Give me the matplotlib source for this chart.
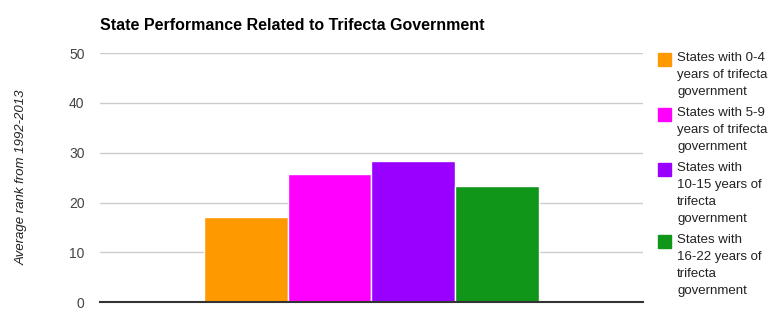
import numpy as np
import matplotlib.pyplot as plt
from matplotlib.patches import Rectangle

plt.rcParams['font.family'] = ['Liberation Sans', 'DejaVu Sans']

# Data
series_labels = [
    "States with 0-4\nyears of trifecta\ngovernment",
    "States with 5-9\nyears of trifecta\ngovernment",
    "States with\n10-15 years of\ntrifecta\ngovernment",
    "States with\n16-22 years of\ntrifecta\ngovernment",
]
avg_rank = [17.1, 25.8, 28.3, 23.4]
colors = ["#ff9900", "#ff00ff", "#9900ff", "#109618"]
yticks = [0, 10, 20, 30, 40, 50]

fig = plt.figure(figsize=(7.8, 3.24), dpi=100)
ax = fig.add_axes([0.128, 0.067, 0.696, 0.769])

# one category, four series side by side
bar_w = 0.1543
n = len(avg_rank)
offsets = (np.arange(n) - (n - 1) / 2) * bar_w
for off, val, col in zip(offsets, avg_rank, colors):
    ax.bar(off, val, width=bar_w, color=col, edgecolor="white", linewidth=1, zorder=2)

ax.set_xlim(-0.5, 0.5)
ax.set_ylim(0, 50)
ax.set_yticks(yticks)
ax.set_xticks([])
ax.grid(axis="y", color="#cccccc", linewidth=1, zorder=0)
ax.set_axisbelow(True)
for s in ["top", "right", "left"]:
    ax.spines[s].set_visible(False)
ax.spines["bottom"].set_color("#333333")
ax.spines["bottom"].set_linewidth(1.5)
ax.spines["bottom"].set_zorder(3)
ax.tick_params(axis="y", length=0, pad=11, labelsize=10, labelcolor="#444444")

ax.set_ylabel("Average rank from 1992-2013", fontsize=9.5, style="italic",
              color="#222222", labelpad=30)

fig.text(100 / 780, 1 - 25 / 324, "State Performance Related to Trifecta Government",
         fontsize=11.5, fontweight="bold", color="#000000", va="center", ha="left")

# legend drawn by hand: squares aligned to the first text line
line_h = 17
y = 53
for lab, col in zip(series_labels, colors):
    fig.patches.append(Rectangle((658 / 780, 1 - (y + 13) / 324), 13 / 780, 13 / 324,
                                 transform=fig.transFigure, color=col))
    fig.text(677 / 780, 1 - (y - 1) / 324, lab, fontsize=9.5, color="#222222",
             va="top", ha="left", linespacing=1.55)
    y += line_h * (lab.count("\n") + 1) + 4

fig.savefig("out.png", dpi=100)
